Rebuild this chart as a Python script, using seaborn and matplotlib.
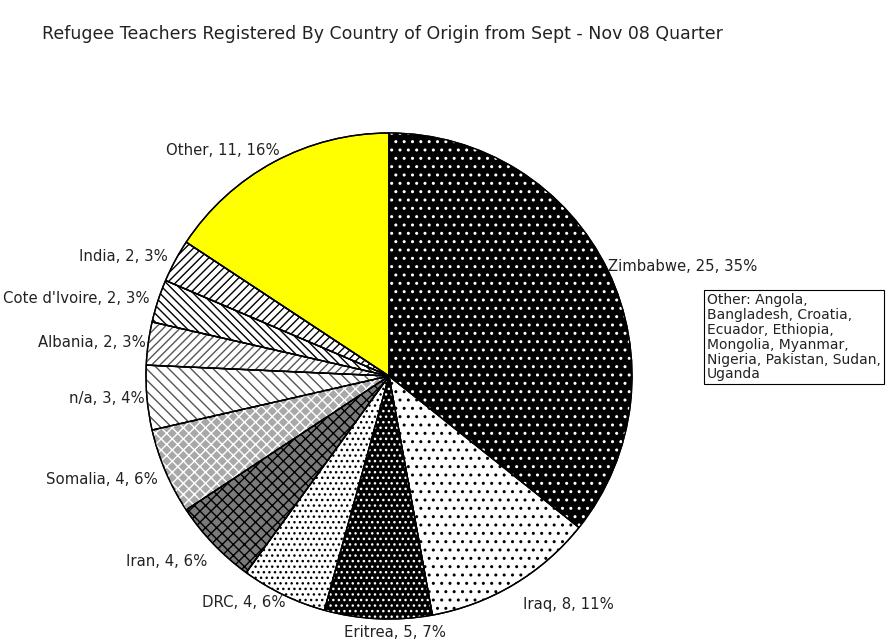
import matplotlib
matplotlib.use("Agg")
import matplotlib.pyplot as plt
import seaborn as sns
import numpy as np

# data
countries = ["Zimbabwe", "Iraq", "Eritrea", "DRC", "Iran", "Somalia", "n/a",
             "Albania", "Cote d'Ivoire", "India", "Other"]
counts = [25, 8, 5, 4, 4, 4, 3, 2, 2, 2, 11]
pcts = [35, 11, 7, 6, 6, 6, 4, 3, 3, 3, 16]
other_note = ("Other: Angola,\nBangladesh, Croatia,\nEcuador, Ethiopia,\n"
              "Mongolia, Myanmar,\nNigeria, Pakistan, Sudan,\nUganda")

# styling for each slice: face, hatch, hatch colour
faces = ["black", "white", "black", "white", "#7a7a7a", "#a8a8a8", "white",
         "white", "white", "white", "#ffff00"]
hatches = ["..", "..", "...", "...", "xxx", "xxx", "\\\\\\",
           "////", "\\\\\\\\", "////", None]
hatch_cols = ["white", "black", "white", "black", "black", "white", "#555555",
              "#555555", "black", "black", None]

sns.set_theme(style="white")
plt.rcParams['font.family'] = ['DejaVu Sans']
plt.rcParams['hatch.linewidth'] = 1.0

fig = plt.figure(figsize=(8.88, 6.44), dpi=100)
ax = fig.add_axes([146 / 888, 25 / 644, 486 / 888, 486 / 644])

labels = [f"{c}, {n}, {p}%" for c, n, p in zip(countries, counts, pcts)]

wedges, texts = ax.pie(counts, colors=faces, startangle=90, counterclock=False,
                       labels=labels, labeldistance=1.035,
                       wedgeprops=dict(edgecolor="black", linewidth=1.0),
                       textprops=dict(fontsize=10.7, color="#222222"))

# hatch overlay
over, _ = ax.pie(counts, startangle=90, counterclock=False)
for w, h, hc in zip(over, hatches, hatch_cols):
    w.set_fill(False)
    if h is None:
        w.set_visible(False)
        continue
    w.set_hatch(h)
    w.set_edgecolor(hc)
    w.set_linewidth(0)
# outline on top again
out, _ = ax.pie(counts, startangle=90, counterclock=False,
                wedgeprops=dict(fill=False, edgecolor="black", linewidth=1.0))

# small nudges like the original layout
for t, lab in zip(texts, countries):
    x, y = t.get_position()
    if lab == "Eritrea":
        t.set_ha("center")
        t.set_position((x + 0.07, y - 0.02))
    elif lab == "Iraq":
        t.set_position((x + 0.02, y - 0.05))
    elif lab == "Zimbabwe":
        t.set_position((x - 0.03, y))
    elif lab == "Other":
        t.set_position((x + 0.04, y + 0.015))
    elif lab == "Iran":
        t.set_position((x, y - 0.05))
    elif lab == "Somalia":
        t.set_position((x, y - 0.02))
    elif lab in ("n/a", "Albania", "DRC"):
        t.set_position((x + 0.025, y))

ax.set_xlim(-1, 1)
ax.set_ylim(-1, 1)
ax.set_aspect("equal")
ax.axis("off")

fig.text(42 / 888, 1 - 34 / 644, "Refugee Teachers Registered By Country of Origin from Sept - Nov 08 Quarter",
         fontsize=12.5, color="#222222", va="center", ha="left")

fig.text(707 / 888, 1 - 293 / 644, other_note, fontsize=10, color="#222222",
         va="top", ha="left", linespacing=1.08,
         bbox=dict(boxstyle="square,pad=0.2", facecolor="white",
                   edgecolor="black", linewidth=0.8))

fig.savefig("out.png", dpi=100)
